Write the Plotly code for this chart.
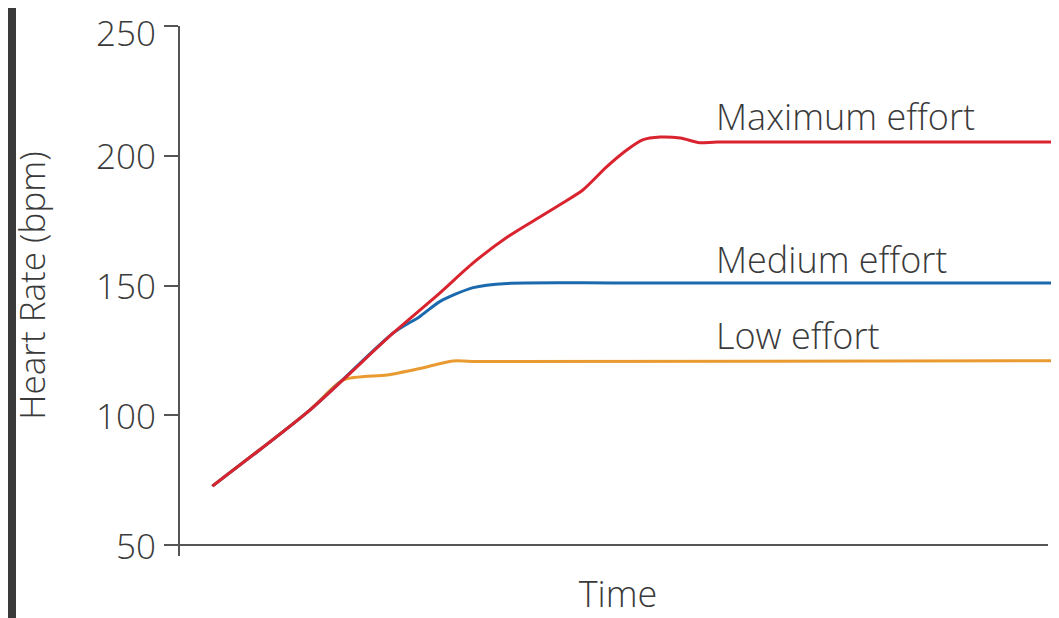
import plotly.graph_objects as go

# Time (arbitrary units, 0-100) and heart rate (bpm)
time_max = [3.8, 14.9, 24.4, 29.7, 33.5, 37.4, 41.1, 43.7, 46.0, 48.7, 51.0, 52.8, 54.8, 57.1, 59.3, 61.3, 100]
hr_max = [72.7, 102.0, 131.7, 147.1, 158.7, 168.7, 176.4, 181.8, 186.8, 195.7, 202.2, 206.1, 207.2, 206.8, 205.0, 205.3, 205.3]

time_med = [3.8, 14.9, 24.4, 27.4, 29.7, 33.5, 37.4, 50, 100]
hr_med = [72.7, 102.0, 131.7, 138.0, 143.8, 149.2, 150.8, 151.0, 151.0]

time_low = [3.8, 14.9, 18.7, 23.7, 27.4, 31.2, 34.3, 100]
hr_low = [72.7, 102.0, 113.6, 115.5, 118.0, 120.9, 120.7, 121.0]

labels = ["Maximum effort", "Medium effort", "Low effort"]
label_y = [215.3, 159.9, 130.6]
label_x = 60.9

y_ticks = [50, 100, 150, 200, 250]
y_tick_text = ["50", "100", "150", "200", "250"]

RED = "#d9232e"
BLUE = "#1b6aae"
ORANGE = "#e99a30"
TXT = "#3a3a3a"
FONT = "Open Sans"

# page body has an 8px margin, so the figure is placed at (8, 8)
W, H = 1051, 610
L, R, T, B = 171, 2, 18, 73
pw, ph = W - L - R, H - T - B

fig = go.Figure()
for t, h, c in [(time_low, hr_low, ORANGE), (time_med, hr_med, BLUE), (time_max, hr_max, RED)]:
    fig.add_trace(go.Scatter(x=t, y=h, mode="lines",
                             line=dict(color=c, width=3, shape="spline", smoothing=0.7),
                             showlegend=False, hoverinfo="skip"))

for txt, yy in zip(labels, label_y):
    fig.add_annotation(x=label_x, y=yy, text=txt, showarrow=False, xanchor="left",
                       yanchor="middle", font=dict(family=FONT, size=36, color=TXT, weight=300))

# y tick labels placed on the y scale; the top one is anchored so it stays inside the page
for v, txt in zip(y_ticks, y_tick_text):
    top = v == max(y_ticks)
    fig.add_annotation(xref="paper", x=0, y=v, text=txt, showarrow=False, xanchor="right",
                       yanchor="top" if top else "middle", yshift=T if top else 0,
                       xshift=-22, borderpad=0,
                       font=dict(family=FONT, size=35, color=TXT, weight=300))

shapes = [
    # dark frame strip on the left / white page
    dict(type="rect", xref="paper", yref="paper", x0=(8 - L) / pw, x1=(W - L) / pw,
         y0=-B / ph, y1=(H - B) / ph, fillcolor="white", line=dict(width=0), layer="below"),
    # axis lines
    dict(type="line", xref="paper", yref="paper", x0=0, x1=0, y0=-11 / ph, y1=1,
         line=dict(color="#555555", width=2)),
    dict(type="line", xref="paper", yref="paper", x0=0, x1=(1040 - L) / pw, y0=0, y1=0,
         line=dict(color="#555555", width=2)),
]

fig.update_layout(
    width=W, height=H,
    margin=dict(l=L, r=R, t=T, b=B, pad=0),
    paper_bgcolor="#3a3a3a", plot_bgcolor="white",
    shapes=shapes,
    font=dict(family=FONT, color=TXT),
    xaxis=dict(range=[0, 100], showgrid=False, zeroline=False, showline=False,
               showticklabels=False, ticks="",
               title=dict(text="Time", font=dict(family=FONT, size=36, color=TXT, weight=300), standoff=44)),
    yaxis=dict(range=[50, 250], tickvals=y_ticks, showgrid=False, zeroline=False, showline=False,
               ticks="outside", ticklen=14, tickwidth=1.5, tickcolor="#555555",
               showticklabels=False,
               title=dict(text="Heart Rate (bpm)", font=dict(family=FONT, size=35, color=TXT, weight=300), standoff=112)),
)

fig.write_html("out.html")
